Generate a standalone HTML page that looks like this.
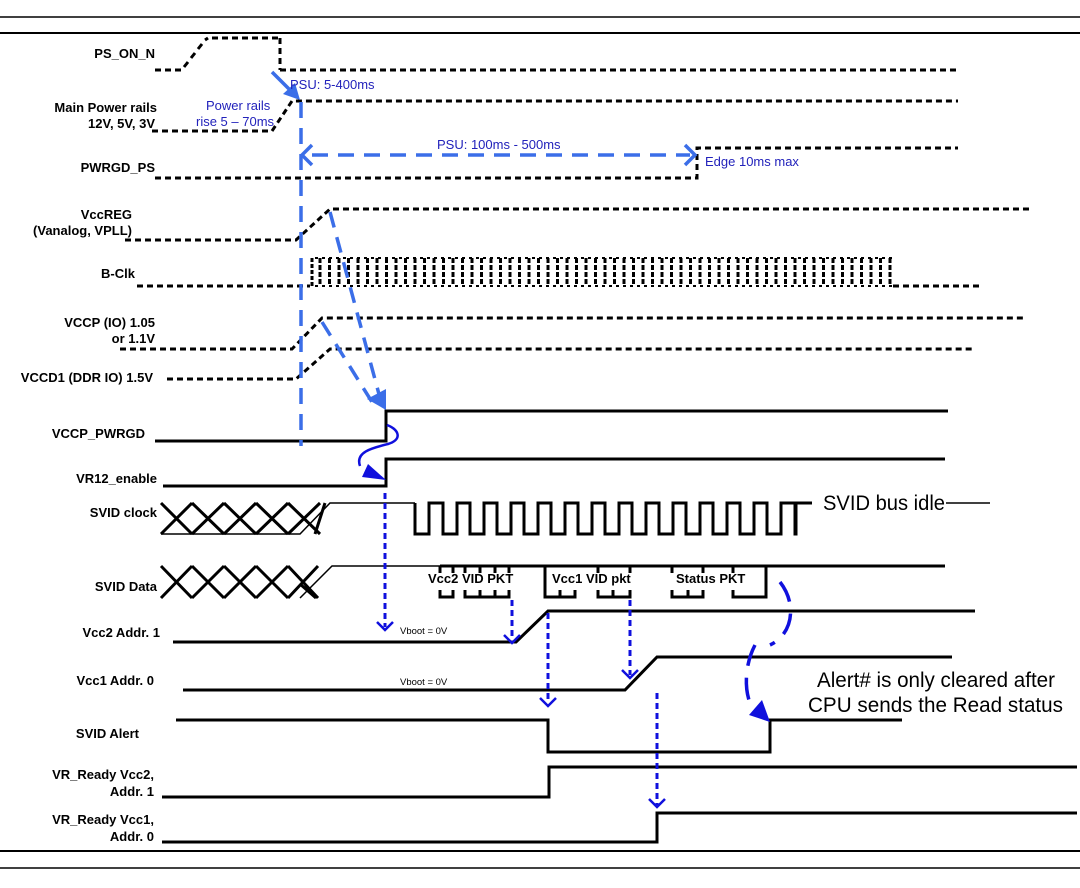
<!DOCTYPE html>
<html><head><meta charset="utf-8"><style>
html,body{margin:0;padding:0;background:#fff;}
svg{display:block;}
.l{font-family:"Liberation Sans",Arial,sans-serif;font-weight:bold;font-size:13px;fill:#000;}
.b{font-family:"Liberation Sans",Arial,sans-serif;font-size:13px;fill:#2222bb;}
.d{fill:none;stroke:#000;stroke-width:3;stroke-dasharray:6,4;}
.s{fill:none;stroke:#000;stroke-width:3;}
.t{fill:none;stroke:#000;stroke-width:1.5;}
.bd{fill:none;stroke:#3b6ee8;stroke-width:3.5;stroke-dasharray:16,10;}
.bl{fill:none;stroke:#1010dd;stroke-width:3;stroke-dasharray:6,4;}
</style></head><body>
<svg width="1080" height="888" viewBox="0 0 1080 888" xmlns="http://www.w3.org/2000/svg">
<line x1="0" y1="17" x2="1080" y2="17" stroke="#000" stroke-width="1.5"/>
<line x1="0" y1="33" x2="1080" y2="33" stroke="#000" stroke-width="2"/>
<line x1="0" y1="851" x2="1080" y2="851" stroke="#000" stroke-width="2"/>
<line x1="0" y1="868" x2="1080" y2="868" stroke="#000" stroke-width="1.5"/>

<g text-anchor="end" class="l">
<text x="155" y="58">PS_ON_N</text>
<text x="157" y="112">Main Power rails</text>
<text x="155" y="128">12V, 5V, 3V</text>
<text x="155" y="172">PWRGD_PS</text>
<text x="132" y="219">VccREG</text>
<text x="132" y="235">(Vanalog,  VPLL)</text>
<text x="135" y="278">B-Clk</text>
<text x="155" y="327">VCCP (IO)  1.05</text>
<text x="155" y="343">or 1.1V</text>
<text x="153" y="382">VCCD1 (DDR IO) 1.5V</text>
<text x="145" y="438">VCCP_PWRGD</text>
<text x="157" y="483">VR12_enable</text>
<text x="157" y="517">SVID clock</text>
<text x="157" y="591">SVID Data</text>
<text x="160" y="637">Vcc2 Addr. 1</text>
<text x="154" y="685">Vcc1 Addr. 0</text>
<text x="139" y="738">SVID Alert</text>
<text x="154" y="779">VR_Ready Vcc2,</text>
<text x="154" y="796">Addr. 1</text>
<text x="154" y="824">VR_Ready Vcc1,</text>
<text x="154" y="841">Addr. 0</text>
</g>

<path class="d" d="M155,70 H182"/>
<g stroke="#000" stroke-width="3">
<line x1="184" y1="67" x2="188" y2="62"/><line x1="191" y1="58" x2="195" y2="53"/><line x1="198" y1="49" x2="202" y2="44"/><line x1="205" y1="40" x2="208" y2="38"/>
<line x1="212" y1="38" x2="218" y2="38"/><line x1="222" y1="38" x2="228" y2="38"/><line x1="232" y1="38" x2="238" y2="38"/><line x1="242" y1="38" x2="248" y2="38"/><line x1="252" y1="38" x2="258" y2="38"/><line x1="262" y1="38" x2="268" y2="38"/><line x1="272" y1="38" x2="278" y2="38"/>
</g>
<path class="d" d="M280,38 V70"/>
<path class="d" d="M280,70 H958"/>
<path class="d" d="M152,131 H272 L292,101 H958"/>
<path class="d" d="M155,178 H697 V148 H958"/>
<path class="d" d="M125,240 H296 L330,209 H1030"/>
<path class="d" d="M137,286 H310"/>
<path class="d" d="M893,286 H980"/>
<path d="M312,258 V286" fill="none" stroke="#000" stroke-width="3" stroke-dasharray="4,2"/>
<g stroke="#000" stroke-width="3" stroke-dasharray="5,2" fill="none">
<path d="M320,258V286M329.5,258V286M339,258V286M348.5,258V286M358,258V286M367.5,258V286M377,258V286M386.5,258V286M396,258V286M405.5,258V286M415,258V286M424.5,258V286M434,258V286M443.5,258V286M453,258V286M462.5,258V286M472,258V286M481.5,258V286M491,258V286M500.5,258V286M510,258V286M519.5,258V286M529,258V286M538.5,258V286M548,258V286M557.5,258V286M567,258V286M576.5,258V286M586,258V286M595.5,258V286M605,258V286M614.5,258V286M624,258V286M633.5,258V286M643,258V286M652.5,258V286M662,258V286M671.5,258V286M681,258V286M690.5,258V286M700,258V286M709.5,258V286M719,258V286M728.5,258V286M738,258V286M747.5,258V286M757,258V286M766.5,258V286M776,258V286M785.5,258V286M795,258V286M804.5,258V286M814,258V286M823.5,258V286M833,258V286M842.5,258V286M852,258V286M861.5,258V286M871,258V286M880.5,258V286M890,258V286"/>
</g>
<path d="M315,258 H893 M315,286 H893" stroke="#000" stroke-width="2" stroke-dasharray="3,4" fill="none"/>
<path class="d" d="M120,349 H292 L322,318 H1025"/>
<path class="d" d="M167,379 H296 L330,349 H972"/>

<path class="s" d="M155,441 H386 V411 H948"/>
<path class="s" d="M163,486 H386 V459 H945"/>
<path class="s" d="M161,503 L192,534 M192,503 L161,534 M192,503 L224,534 M224,503 L192,534 M224,503 L256,534 M256,503 L224,534 M256,503 L288,534 M288,503 L256,534 M288,503 L320,534 M320,503 L288,534 M315,534 L325,503"/>
<path class="t" d="M161,534 H300 L330,503 H415"/>
<path class="s" d="M415,503 V534 H429 V503 H443 V534 H457 V503 H470 V534 H484 V503 H497 V534 H511 V503 H524 V534 H538 V503 H551 V534 H565 V503 H578 V534 H592 V503 H605 V534 H619 V503 H632 V534 H646 V503 H659 V534 H673 V503 H686 V534 H700 V503 H713 V534 H727 V503 H740 V534 H754 V503 H767 V534 H781 V503 H795 V534 H796 V503 H812"/>
<text x="823" y="510" font-family="'Liberation Sans',sans-serif" font-size="21" textLength="122" lengthAdjust="spacingAndGlyphs">SVID bus idle</text>
<line x1="946" y1="503" x2="990" y2="503" stroke="#000" stroke-width="1.5"/>
<path class="s" d="M161,566 L192,598 M192,566 L161,598 M192,566 L224,598 M224,566 L192,598 M224,566 L256,598 M256,566 L224,598 M256,566 L288,598 M288,566 L256,598 M288,566 L318,598 M318,566 L288,598 M300,584 L316,598"/>
<path class="t" d="M300,598 L332,566 H440"/>
<path class="s" d="M440,566 H945"/>
<g class="s" stroke-width="2.5">
<path d="M440,566V573M453,566V573M440,590V597H453V590"/>
<path d="M465,566V573M480,566V573M495,566V573M509,566V573M465,590V597H509V590M480,590V597M495,590V597"/>
<path d="M545,566V597H575V590M560,590V597"/>
<path d="M598,566V573M630,566V573M598,590V597H630V590M613,590V597"/>
<path d="M672,566V573M703,566V573M672,590V597H703V590M688,590V597"/>
<path d="M733,566V573M733,590V597H766V566"/>
</g>
<g class="l" font-size="13">
<text x="428" y="583">Vcc2 VID PKT</text>
<text x="552" y="583">Vcc1 VID pkt</text>
<text x="676" y="583">Status PKT</text>
</g>

<path class="s" d="M173,642 H516 L548,611 H975"/>
<path class="s" d="M183,690 H625 L657,657 H952"/>
<path class="s" d="M176,720 H548 V752 H770 V720 H902"/>
<path class="s" d="M162,797 H549 V767 H1077"/>
<path class="s" d="M162,842 H657 V813 H1077"/>
<text x="400" y="634" font-family="'Liberation Sans',sans-serif" font-size="9.5">Vboot = 0V</text>
<text x="400" y="685" font-family="'Liberation Sans',sans-serif" font-size="9.5">Vboot = 0V</text>

<line x1="272" y1="72" x2="293" y2="93" stroke="#3b6ee8" stroke-width="3.5"/>
<polygon points="300,100 283,94 295,83" fill="#3b6ee8"/>
<path class="bd" d="M301,102 V446"/>
<path class="bd" d="M312,155 H690"/>
<path d="M312,145 L302,155 L312,165 M685,145 L695,155 L685,165" fill="none" stroke="#3b6ee8" stroke-width="3.5"/>
<path class="bd" d="M330,212 L380,398"/>
<path class="bd" d="M322,322 L372,402"/>
<polygon points="386,410 367,399 386,389" fill="#3b6ee8"/>
<path d="M387,425 C400,430 402,440 388,444 C372,448 355,452 360,466" fill="none" stroke="#1010dd" stroke-width="2.5"/>
<polygon points="386,480 362,477 368,464" fill="#1010dd"/>
<path d="M780,582 C798,605 792,635 770,645" fill="none" stroke="#1010dd" stroke-width="3.5" stroke-dasharray="22,12"/>
<path d="M755,645 C742,670 745,700 755,712" fill="none" stroke="#1010dd" stroke-width="3.5" stroke-dasharray="22,12"/>
<polygon points="770,722 749,715 762,700" fill="#1010dd"/>

<g class="bl">
<path d="M385,493 V627"/><path d="M512,600 V640"/><path d="M548,613 V703"/><path d="M630,600 V675"/><path d="M657,693 V805"/>
</g>
<g fill="none" stroke="#1010dd" stroke-width="2.5">
<path d="M377,622 L385,630 L393,622"/><path d="M504,635 L512,643 L520,635"/><path d="M540,698 L548,706 L556,698"/><path d="M622,670 L630,678 L638,670"/><path d="M649,799 L657,807 L665,799"/>
</g>

<g class="b">
<text x="290" y="89">PSU:  5-400ms</text>
<text x="206" y="110">Power rails</text>
<text x="196" y="126">rise  5 – 70ms</text>
<text x="437" y="149">PSU:  100ms - 500ms</text>
<text x="705" y="166">Edge 10ms max</text>
</g>
<g font-family="'Liberation Sans',sans-serif" font-size="21" fill="#000">
<text x="817" y="687" textLength="238" lengthAdjust="spacingAndGlyphs">Alert# is only cleared after</text>
<text x="808" y="712" textLength="255" lengthAdjust="spacingAndGlyphs">CPU sends the Read status</text>
</g>
</svg>
</body></html>
